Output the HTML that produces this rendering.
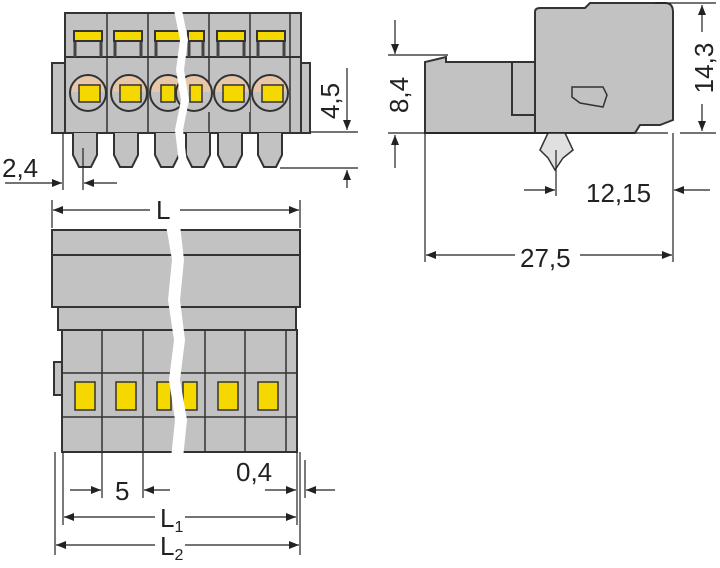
<!DOCTYPE html>
<html><head><style>html,body{margin:0;padding:0;background:#fff}svg{display:block}text{font-family:"Liberation Sans",sans-serif;font-size:26px;fill:#222}</style></head><body>
<svg width="720" height="568" viewBox="0 0 720 568" xmlns="http://www.w3.org/2000/svg">
<defs>
<marker id="a" viewBox="0 0 10 10" refX="10" refY="5" markerWidth="12" markerHeight="10" markerUnits="userSpaceOnUse" orient="auto"><path d="M0,1 L10,5 L0,9z" fill="#222"/></marker>
</defs>
<g stroke="#333" stroke-width="2" fill="#c2c2c2">
<rect x="52" y="63" width="13" height="70"/>
<rect x="300" y="63" width="10" height="70"/>
<rect x="65" y="13" width="236" height="120"/>
<line x1="65" y1="57" x2="301" y2="57"/>
<g stroke-width="1.5">
<line x1="107" y1="13" x2="107" y2="133"/><line x1="148" y1="13" x2="148" y2="133"/>
<line x1="209" y1="13" x2="209" y2="133"/><line x1="250" y1="13" x2="250" y2="133"/><line x1="290" y1="13" x2="290" y2="133"/>
</g>
<g>
<path d="M73,133 v22 l6,12 h12 l6,-12 v-22"/><path d="M114,133 v22 l6,12 h12 l6,-12 v-22"/><path d="M155,133 v22 l6,12 h12 l6,-12 v-22"/>
<path d="M186,133 v22 l6,12 h12 l6,-12 v-22"/><path d="M218,133 v22 l6,12 h12 l6,-12 v-22"/><path d="M258,133 v22 l6,12 h12 l6,-12 v-22"/>
</g>
<g fill="none" stroke-width="3" stroke="#444">
<path d="M75,57 V41 M101,57 V41 M115,57 V41 M141,57 V41 M156,57 V41 M182,57 V41 M189,57 V41 M203,57 V41 M218,57 V41 M244,57 V41 M258,57 V41 M284,57 V41"/>
</g>
<g fill="#f4d800" stroke="#333" stroke-width="2">
<rect x="74" y="31" width="28" height="10"/><rect x="114" y="31" width="28" height="10"/><rect x="155" y="31" width="28" height="10"/>
<rect x="188" y="31" width="16" height="10"/><rect x="217" y="31" width="28" height="10"/><rect x="257" y="31" width="28" height="10"/>
</g>
<g fill="#e8c7a8" stroke="none">
<circle cx="88" cy="93" r="17"/><circle cx="129" cy="93" r="17"/><circle cx="168" cy="93" r="17"/>
<circle cx="194" cy="93" r="17"/><circle cx="232" cy="93" r="17"/><circle cx="270" cy="93" r="17"/>
</g>
<g fill="#c2c2c2" stroke="none">
<rect x="70" y="92" width="36" height="20"/><rect x="111" y="92" width="36" height="20"/><rect x="150" y="92" width="36" height="20"/>
<rect x="176" y="92" width="36" height="20"/><rect x="214" y="92" width="36" height="20"/><rect x="252" y="92" width="36" height="20"/>
</g>
<g fill="none">
<circle cx="88" cy="93" r="18"/><circle cx="129" cy="93" r="18"/><circle cx="168" cy="93" r="18"/>
<circle cx="194" cy="93" r="18"/><circle cx="232" cy="93" r="18"/><circle cx="270" cy="93" r="18"/>
</g>
<g fill="#f4d800" stroke-width="1.5">
<rect x="79" y="85" width="21" height="17"/><rect x="120" y="85" width="21" height="17"/><rect x="161" y="85" width="14" height="17"/>
<rect x="190" y="85" width="12" height="17"/><rect x="223" y="85" width="21" height="17"/><rect x="262" y="85" width="21" height="17"/>
</g>
<path d="M174,10 L180,40 L176,70 L181,100 L175,130 L180,172 L188,172 L183,130 L189,100 L184,70 L188,40 L182,10z" fill="#fff" stroke="none"/>
<rect x="54" y="362" width="8" height="33"/>
<rect x="52" y="230" width="248" height="77"/>
<line x1="52" y1="255" x2="300" y2="255"/>
<rect x="58" y="307" width="238" height="23"/>
<rect x="62" y="330" width="235" height="122"/>
<line x1="62" y1="373" x2="297" y2="373" stroke-width="1.5"/><line x1="62" y1="417" x2="297" y2="417" stroke-width="1.5"/>
<g stroke-width="1.5"><line x1="102" y1="330" x2="102" y2="452"/><line x1="143" y1="330" x2="143" y2="452"/><line x1="205" y1="330" x2="205" y2="452"/><line x1="245" y1="330" x2="245" y2="452"/><line x1="286" y1="330" x2="286" y2="452"/></g>
<g fill="#f4d800" stroke-width="1.5">
<rect x="75" y="382" width="20" height="28"/><rect x="116" y="382" width="20" height="28"/><rect x="157" y="382" width="14" height="28"/>
<rect x="183" y="382" width="14" height="28"/><rect x="218" y="382" width="20" height="28"/><rect x="258" y="382" width="20" height="28"/>
</g>
<path d="M166,225 L172,260 L168,300 L174,340 L169,380 L175,420 L171,458 L183,458 L187,420 L180,380 L185,340 L180,300 L184,260 L180,225z" fill="#fff" stroke="none"/>
<path d="M425,133 V62 L446,57 V62 H535 V133z"/>
<rect x="512" y="62" width="23" height="53" fill="none"/>
<path d="M535,133 V12 Q535,8 540,8 H585 L590,3 H665 Q673,3 673,12 V120 L660,125 H640 L635,133z"/>
<path d="M572,87 H603 L607,95 L603,107 L580,103 L572,97z" fill="none" stroke-width="1.5"/>
<path d="M548,133 L540,150 L548,158 L555,170 L563,158 L573,150 L565,133z" fill="#e0e0e0" stroke-width="1.5"/>
</g>
<g stroke="#222" stroke-width="1.2" fill="none">
<line x1="310" y1="132" x2="358" y2="132"/><line x1="280" y1="168" x2="358" y2="168"/>
<line x1="347" y1="68" x2="347" y2="130" marker-end="url(#a)"/>
<line x1="347" y1="188" x2="347" y2="170" marker-end="url(#a)"/>
<line x1="63" y1="133" x2="63" y2="190"/><line x1="83" y1="148" x2="83" y2="190"/>
<line x1="5" y1="183" x2="62" y2="183" marker-end="url(#a)"/>
<line x1="117" y1="183" x2="84" y2="183" marker-end="url(#a)"/>
<line x1="52" y1="200" x2="52" y2="228"/><line x1="300" y1="200" x2="300" y2="228"/>
<line x1="150" y1="210" x2="53" y2="210" marker-end="url(#a)"/>
<line x1="180" y1="210" x2="299" y2="210" marker-end="url(#a)"/>
<line x1="63" y1="452" x2="63" y2="525"/><line x1="102" y1="452" x2="102" y2="498"/><line x1="143" y1="452" x2="143" y2="498"/>
<line x1="297" y1="452" x2="297" y2="525"/><line x1="55" y1="452" x2="55" y2="555"/><line x1="300" y1="452" x2="300" y2="555"/><line x1="305" y1="460" x2="305" y2="498"/>
<line x1="70" y1="490" x2="101" y2="490" marker-end="url(#a)"/>
<line x1="170" y1="490" x2="144" y2="490" marker-end="url(#a)"/>
<line x1="265" y1="490" x2="296" y2="490" marker-end="url(#a)"/>
<line x1="335" y1="490" x2="306" y2="490" marker-end="url(#a)"/>
<line x1="155" y1="517" x2="64" y2="517" marker-end="url(#a)"/>
<line x1="185" y1="517" x2="296" y2="517" marker-end="url(#a)"/>
<line x1="155" y1="545" x2="56" y2="545" marker-end="url(#a)"/>
<line x1="185" y1="545" x2="299" y2="545" marker-end="url(#a)"/>
<line x1="388" y1="55" x2="448" y2="55"/><line x1="388" y1="133" x2="668" y2="133"/>
<line x1="395" y1="20" x2="395" y2="54" marker-end="url(#a)"/>
<line x1="395" y1="168" x2="395" y2="135" marker-end="url(#a)"/>
<line x1="655" y1="3" x2="716" y2="3"/><line x1="680" y1="133" x2="716" y2="133"/>
<line x1="702" y1="32" x2="702" y2="5" marker-end="url(#a)"/>
<line x1="702" y1="104" x2="702" y2="131" marker-end="url(#a)"/>
<line x1="556" y1="150" x2="556" y2="196"/><line x1="673" y1="133" x2="673" y2="262"/><line x1="425" y1="133" x2="425" y2="262"/>
<line x1="524" y1="190" x2="555" y2="190" marker-end="url(#a)"/>
<line x1="710" y1="190" x2="674" y2="190" marker-end="url(#a)"/>
<line x1="515" y1="255" x2="426" y2="255" marker-end="url(#a)"/>
<line x1="580" y1="255" x2="672" y2="255" marker-end="url(#a)"/>
</g>
<text x="2" y="177">2,4</text>
<text x="339" y="101" transform="rotate(-90 339 101)" text-anchor="middle">4,5</text>
<text x="156" y="219">L</text>
<text x="115" y="500">5</text>
<text x="236" y="481">0,4</text>
<text x="160" y="527">L<tspan font-size="16" dy="5">1</tspan></text>
<text x="160" y="555">L<tspan font-size="16" dy="5">2</tspan></text>
<text x="408" y="95" transform="rotate(-90 408 95)" text-anchor="middle">8,4</text>
<text x="713" y="68" transform="rotate(-90 713 68)" text-anchor="middle">14,3</text>
<text x="586" y="202">12,15</text>
<text x="520" y="267">27,5</text>
</svg>
</body></html>
